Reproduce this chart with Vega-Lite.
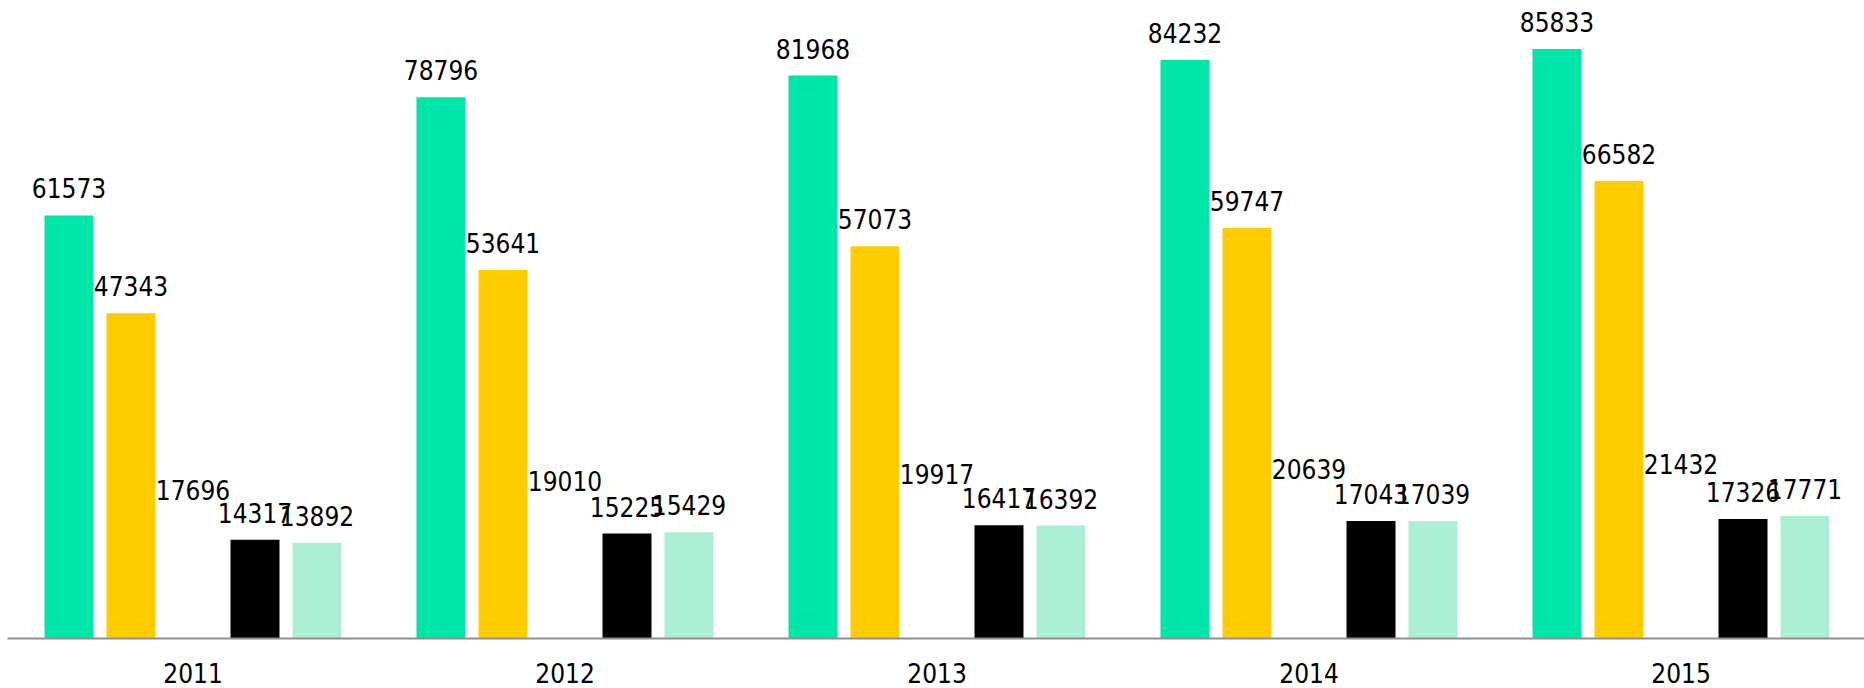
{
  "$schema": "https://vega.github.io/schema/vega-lite/v6.json",
  "autosize": {"type": "none"},
  "padding": {"left": 7, "top": 0, "right": 0, "bottom": 50},
  "width": 1860,
  "height": 638,
  "background": "white",
  "config": {"view": {"stroke": null}},
  "data": {
    "values": [
      {"year": "2011", "series": "s1", "value": 61573},
      {"year": "2011", "series": "s2", "value": 47343},
      {"year": "2011", "series": "s3", "value": 17696},
      {"year": "2011", "series": "s4", "value": 14317},
      {"year": "2011", "series": "s5", "value": 13892},
      {"year": "2012", "series": "s1", "value": 78796},
      {"year": "2012", "series": "s2", "value": 53641},
      {"year": "2012", "series": "s3", "value": 19010},
      {"year": "2012", "series": "s4", "value": 15225},
      {"year": "2012", "series": "s5", "value": 15429},
      {"year": "2013", "series": "s1", "value": 81968},
      {"year": "2013", "series": "s2", "value": 57073},
      {"year": "2013", "series": "s3", "value": 19917},
      {"year": "2013", "series": "s4", "value": 16417},
      {"year": "2013", "series": "s5", "value": 16392},
      {"year": "2014", "series": "s1", "value": 84232},
      {"year": "2014", "series": "s2", "value": 59747},
      {"year": "2014", "series": "s3", "value": 20639},
      {"year": "2014", "series": "s4", "value": 17043},
      {"year": "2014", "series": "s5", "value": 17039},
      {"year": "2015", "series": "s1", "value": 85833},
      {"year": "2015", "series": "s2", "value": 66582},
      {"year": "2015", "series": "s3", "value": 21432},
      {"year": "2015", "series": "s4", "value": 17326},
      {"year": "2015", "series": "s5", "value": 17771}
    ]
  },
  "encoding": {
    "x": {
      "field": "year", "type": "nominal",
      "scale": {"paddingInner": 0, "paddingOuter": 0},
      "axis": {
        "title": null, "ticks": false, "grid": false, "zindex": 1,
        "domainColor": "#8F8F8F", "domainWidth": 2,
        "labelFont": "DejaVu Sans Condensed", "labelFontSize": 26,
        "labelColor": "#000000", "labelBaseline": "alphabetic",
        "labelPadding": 44, "labelAngle": 0
      }
    },
    "xOffset": {
      "field": "series", "type": "nominal",
      "scale": {"paddingInner": 0.21, "paddingOuter": 0.605}
    },
    "y": {
      "field": "value", "type": "quantitative",
      "scale": {"domain": [0, 92975], "nice": false, "zero": true},
      "axis": null
    }
  },
  "layer": [
    {
      "mark": {"type": "bar"},
      "encoding": {
        "color": {
          "field": "series", "type": "nominal",
          "scale": {
            "domain": ["s1", "s2", "s3", "s4", "s5"],
            "range": ["#00E6A8", "#FFCC00", "#FFFFFF", "#000000", "#ADEFD4"]
          },
          "legend": null
        }
      }
    },
    {
      "mark": {
        "type": "text", "baseline": "alphabetic", "align": "center",
        "dy": -17, "font": "DejaVu Sans Condensed", "fontSize": 26,
        "color": "#000000"
      },
      "encoding": {
        "text": {"field": "value", "type": "quantitative", "format": "d"}
      }
    }
  ]
}
